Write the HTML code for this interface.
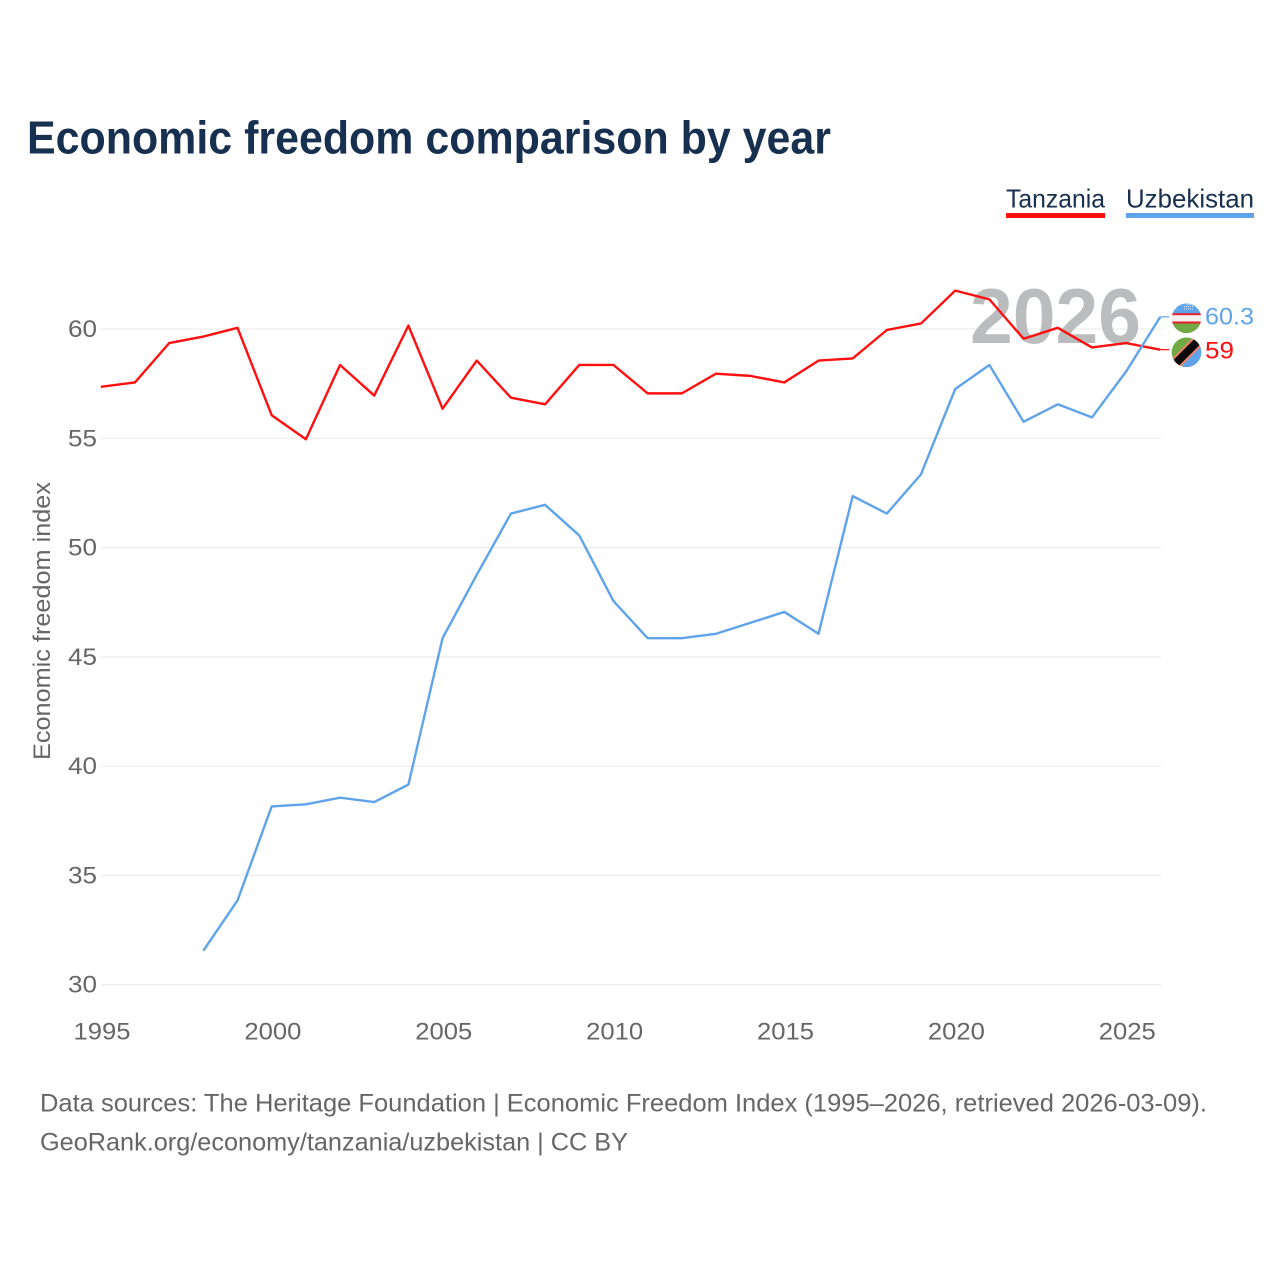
<!DOCTYPE html>
<html lang="en">
<head>
<meta charset="utf-8">
<title>Economic freedom comparison by year</title>
<style>
html,body{margin:0;padding:0;background:#fff;width:1280px;height:1280px;overflow:hidden}
svg{display:block;font-family:"Liberation Sans",sans-serif}
</style>
</head>
<body>
<svg id="chart" xmlns="http://www.w3.org/2000/svg" width="1280" height="1280" viewBox="0 0 1280 1280">
  <rect x="0" y="0" width="1280" height="1280" fill="#fff"/>
  <text x="27" y="153.5" font-size="46" font-weight="700" fill="#18304f" textLength="804" lengthAdjust="spacingAndGlyphs">Economic freedom comparison by year</text>

  <g>
    <text x="1006" y="207.5" font-size="26" fill="#18304f" textLength="99" lengthAdjust="spacingAndGlyphs">Tanzania</text>
    <rect x="1006" y="213" width="99" height="5" fill="#ff0f0f"/>
  </g>
  <g>
    <text x="1126" y="207.5" font-size="26" fill="#18304f" textLength="128" lengthAdjust="spacingAndGlyphs">Uzbekistan</text>
    <rect x="1126" y="213" width="128" height="5" fill="#5fa4ea"/>
  </g>

  <g id="grid"></g>
  <text x="970" y="343" font-size="78" font-weight="700" fill="#bbbcbe" textLength="171" lengthAdjust="spacingAndGlyphs">2026</text>
  <g id="yTicks"></g>
  <g id="xTicks"></g>
  <text transform="translate(50,621) rotate(-90)" text-anchor="middle" font-size="24" fill="#666" textLength="278" lengthAdjust="spacingAndGlyphs">Economic freedom index</text>
  <g id="series" transform="translate(-1.2,-1.2)"></g>

  <defs>
    <clipPath id="clipUz"><circle cx="1186.5" cy="318.3" r="14.8"/></clipPath>
    <clipPath id="clipTz"><circle cx="1186.5" cy="352.3" r="14.8"/></clipPath>
  </defs>
  <g clip-path="url(#clipUz)">
    <rect x="1170" y="302" width="33" height="12" fill="#5fa4ea"/>
    <rect x="1170" y="313.3" width="33" height="2" fill="#ee1c25"/>
    <rect x="1170" y="315.3" width="33" height="6.2" fill="#f1f1f1"/>
    <rect x="1170" y="321.5" width="33" height="2" fill="#ee1c25"/>
    <rect x="1170" y="323.5" width="33" height="11" fill="#70a845"/>
    <path d="M1177 305.5a3 3 0 0 0 0 5 3.4 3.4 0 0 1 0-5z" fill="#fff"/>
    <path d="M1184 309h9M1184 306.500h9M1186.500 304.500h6.500" stroke="#e3eefb" stroke-width="1" stroke-dasharray="1 1" fill="none"/>
  </g>
  <g clip-path="url(#clipTz)">
    <rect x="1170" y="336" width="33" height="33" fill="#70a845"/>
    <path d="M1203 336V369H1170z" fill="#5fa4ea"/>
    <path d="M1170 369L1203 336" stroke="#f0836a" stroke-width="12"/>
    <path d="M1170 369L1203 336" stroke="#0a0a0a" stroke-width="8"/>
  </g>
  <text id="labelUz" x="1205" y="324.500" font-size="24.500" fill="#5fa4ea" textLength="49" lengthAdjust="spacingAndGlyphs"></text>
  <text id="labelTz" x="1205" y="358.500" font-size="24.500" fill="#ff0f0f" textLength="29" lengthAdjust="spacingAndGlyphs"></text>

  <text x="40" y="1111.500" font-size="25" fill="#666" textLength="1167" lengthAdjust="spacingAndGlyphs">Data sources: The Heritage Foundation | Economic Freedom Index (1995–2026, retrieved 2026-03-09).</text>
  <a><text x="40" y="1150.500" font-size="25" fill="#666" textLength="588" lengthAdjust="spacingAndGlyphs">GeoRank.org/economy/tanzania/uzbekistan | CC BY</text></a>
</svg>

<script>
const years = [1995,1996,1997,1998,1999,2000,2001,2002,2003,2004,2005,2006,2007,2008,2009,2010,2011,2012,2013,2014,2015,2016,2017,2018,2019,2020,2021,2022,2023,2024,2025,2026];
const tanzania = [57.3,57.5,59.3,59.6,60.0,56.0,54.9,58.3,56.9,60.1,56.3,58.5,56.8,56.5,58.3,58.3,57.0,57.0,57.9,57.8,57.5,58.5,58.6,59.9,60.2,61.7,61.3,59.5,60.0,59.1,59.3,59.0];
const uzbekistan = [null,null,null,31.5,33.8,38.1,38.2,38.5,38.3,39.1,45.8,48.7,51.5,51.9,50.5,47.5,45.8,45.8,46.0,46.5,47.0,46.0,52.3,51.5,53.3,57.2,58.3,55.7,56.5,55.9,58.0,60.5];
const yTickValues = [30,35,40,45,50,55,60];
const xTickValues = [1995,2000,2005,2010,2015,2020,2025];
const uzbekistanLabel = "60.3";
const tanzaniaLabel = "59";

const NS = "http://www.w3.org/2000/svg";
function xScale(year){ return 102 + (year - 1995) * (1127.3 - 102) / 30; }
function yScale(value){ return 984.7 - (value - 30) * (984.7 - 329) / 30; }
function make(tag, attrs, parent){
  const el = document.createElementNS(NS, tag);
  for (const k in attrs) el.setAttribute(k, attrs[k]);
  parent.appendChild(el);
  return el;
}

const grid = document.getElementById("grid");
const yTicks = document.getElementById("yTicks");
const xTicks = document.getElementById("xTicks");
const seriesGroup = document.getElementById("series");

yTickValues.forEach(function(v){
  const line = make("line", {x1:102, x2:xScale(2026), y1:yScale(v), y2:yScale(v), stroke:"#eeeeee", "stroke-width":1.3}, grid);
  
  
  const t = make("text", {x:97, y:yScale(v)+8, "text-anchor":"end", "font-size":24, fill:"#666", textLength:29, lengthAdjust:"spacingAndGlyphs"}, yTicks);
  
  
  t.textContent = v;
});

xTickValues.forEach(function(y){
  const t = make("text", {x:xScale(y), y:1039.5, "text-anchor":"middle", "font-size":24, fill:"#666", textLength:57, lengthAdjust:"spacingAndGlyphs"}, xTicks);
  
  
  t.textContent = y;
});

function drawSeries(values, color, name){
  const pts = [];
  values.forEach(function(v, i){
    if (v !== null) pts.push(xScale(years[i]).toFixed(2) + "," + yScale(v).toFixed(2));
  });
  const line = make("polyline", {points:pts.join(" "), fill:"none", stroke:color, "stroke-width":2.4, "stroke-linejoin":"round"}, seriesGroup);
  
  
  const lastY = yScale(values[values.length - 1]);
  const lastX = xScale(years[years.length - 1]);
  const conn = make("line", {x1:lastX, x2:lastX + 9, y1:lastY, y2:lastY, stroke:color, "stroke-width":1.2}, seriesGroup);
  
  
}
drawSeries(tanzania, "#ff0f0f", "tanzania");
drawSeries(uzbekistan, "#5fa4ea", "uzbekistan");

document.getElementById("labelUz").textContent = uzbekistanLabel;
document.getElementById("labelTz").textContent = tanzaniaLabel;
</script>
</body>
</html>
